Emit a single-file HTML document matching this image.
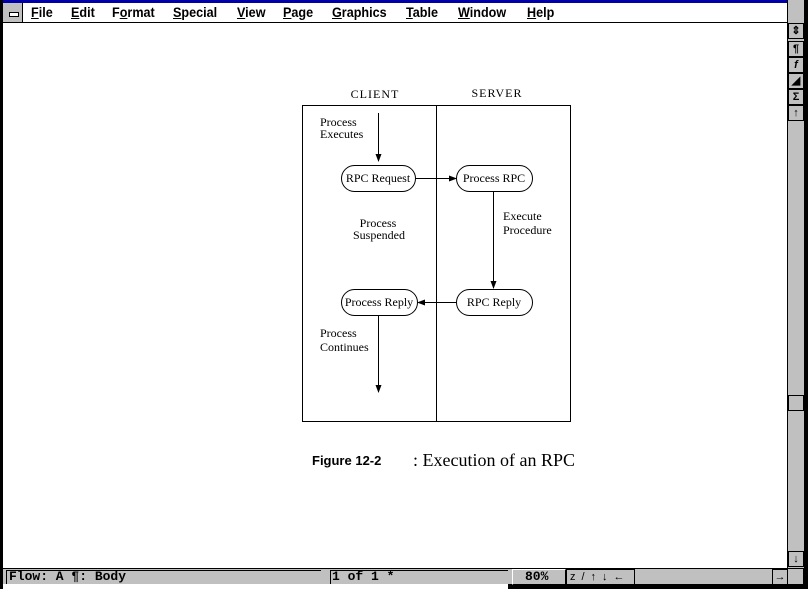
<!DOCTYPE html>
<html><head><style>
body{margin:0;width:808px;height:589px;position:relative;overflow:hidden;background:#fff;font-family:"Liberation Sans",sans-serif}
.a{position:absolute}
.menu span{position:absolute;top:4px;font-size:14px;font-weight:bold;font-family:"Liberation Sans Narrow","Liberation Sans",sans-serif;transform:scaleX(0.9);transform-origin:left}
.st{font-family:"Liberation Mono",monospace;font-size:13px;font-weight:bold;position:absolute;top:569px}
.sb{position:absolute;left:788px;width:14px;height:14px;background:#c0c0c0;border:1px solid #000;font-size:11px;text-align:center;line-height:14px;font-weight:bold}
</style></head><body>
<div class="a" style="left:0;top:0;width:808px;height:3px;background:#0000a8"></div>
<div class="a" style="left:0;top:0;width:3px;height:589px;background:#000"></div>
<div class="a" style="left:803px;top:0;width:5px;height:589px;background:#000"></div>
<div class="a" style="left:3px;top:3px;width:19px;height:19px;background:#c0c0c0;border-right:1px solid #000"></div>
<div class="a" style="left:9px;top:12px;width:8px;height:3px;background:#fff;border:1px solid #000"></div>
<div class="a" style="left:3px;top:22px;width:785px;height:1px;background:#000"></div>
<div class="menu">
<span style="left:31px"><u>F</u>ile</span><span style="left:71px"><u>E</u>dit</span><span style="left:112px">F<u>o</u>rmat</span><span style="left:173px"><u>S</u>pecial</span><span style="left:237px"><u>V</u>iew</span><span style="left:283px"><u>P</u>age</span><span style="left:332px"><u>G</u>raphics</span><span style="left:406px"><u>T</u>able</span><span style="left:458px"><u>W</u>indow</span><span style="left:527px"><u>H</u>elp</span>
</div>
<div class="a" style="left:787px;top:0;width:16px;height:568px;background:#c0c0c0;border-left:1px solid #000"></div>
<div class="sb" style="top:23px">⇕</div>
<div class="sb" style="top:41px">¶</div>
<div class="sb" style="top:57px;font-style:italic">f</div>
<div class="sb" style="top:73px">◢</div>
<div class="sb" style="top:89px">Σ</div>
<div class="sb" style="top:105px">↑</div>
<div class="sb" style="top:395px;height:14px"></div>
<div class="sb" style="top:551px">↓</div>
<div class="a" style="left:3px;top:568px;width:800px;height:1px;background:#000"></div>
<div class="a" style="left:3px;top:569px;width:800px;height:15px;background:#c0c0c0"></div>
<div class="a" style="left:508px;top:584px;width:300px;height:5px;background:#000"></div>
<div class="a" style="left:330px;top:570px;width:177px;height:13px;border-left:1px solid #000;border-top:1px solid #000;background:#c0c0c0"></div>
<div class="a" style="left:6px;top:570px;width:314px;height:13px;border-left:1px solid #000;border-top:1px solid #000"></div>
<div class="st" style="left:9px">Flow: A  ¶: Body</div>
<div class="st" style="left:332px">1 of 1 *</div>
<div class="a" style="left:512px;top:569px;width:52px;height:14px;border:1px solid #fff;border-right-color:#000;border-bottom-color:#000"></div>
<div class="st" style="left:525px">80%</div>
<div class="a" style="left:566px;top:569px;width:64px;height:14px;border:1px solid #000;font-size:11px;line-height:14px;letter-spacing:6px;padding-left:3px">z/↑↓←</div>
<div class="a" style="left:772px;top:569px;width:14px;height:14px;border:1px solid #000;font-size:11px;text-align:center;line-height:14px">→</div>
<svg class="a" style="left:0;top:0" width="808" height="589">
<defs><marker id="m" markerWidth="8" markerHeight="8" refX="7" refY="4" orient="auto" markerUnits="userSpaceOnUse"><path d="M0,1 L8,4 L0,7z" fill="#000"/></marker></defs>
<g font-family="Liberation Serif,serif" font-size="12" fill="#000">
<text x="375" y="98" text-anchor="middle" letter-spacing="1">CLIENT</text>
<text x="497" y="97" text-anchor="middle" letter-spacing="1">SERVER</text>
<rect x="302.5" y="105.5" width="268" height="316" fill="none" stroke="#000"/>
<line x1="436.5" y1="105" x2="436.5" y2="421" stroke="#000"/>
<text x="320" y="126">Process</text><text x="320" y="138">Executes</text>
<rect x="341.5" y="165.5" width="74" height="26" rx="13" fill="none" stroke="#000"/>
<text x="378" y="182" text-anchor="middle">RPC Request</text>
<rect x="456.5" y="165.5" width="76" height="26" rx="13" fill="none" stroke="#000"/>
<text x="494" y="182" text-anchor="middle">Process RPC</text>
<rect x="341.5" y="289.5" width="76" height="26" rx="13" fill="none" stroke="#000"/>
<text x="379" y="306" text-anchor="middle">Process Reply</text>
<rect x="456.5" y="289.5" width="76" height="26" rx="13" fill="none" stroke="#000"/>
<text x="494" y="306" text-anchor="middle">RPC Reply</text>
<text x="378" y="227" text-anchor="middle">Process</text><text x="379" y="239" text-anchor="middle">Suspended</text>
<text x="503" y="220">Execute</text><text x="503" y="234">Procedure</text>
<text x="320" y="337">Process</text><text x="320" y="351">Continues</text>
</g>
<g stroke="#000" marker-end="url(#m)">
<line x1="378.5" y1="113" x2="378.5" y2="161"/>
<line x1="416" y1="178.5" x2="456" y2="178.5"/>
<line x1="493.5" y1="192" x2="493.5" y2="288"/>
<line x1="456" y1="302.5" x2="418" y2="302.5"/>
<line x1="378.5" y1="316" x2="378.5" y2="392"/>
</g>
<text x="312" y="465" font-family="Liberation Sans,sans-serif" font-size="13" font-weight="bold">Figure 12-2</text>
<text x="413" y="466" font-family="Liberation Serif,serif" font-size="18">: Execution of an RPC</text>
</svg>
</body></html>
